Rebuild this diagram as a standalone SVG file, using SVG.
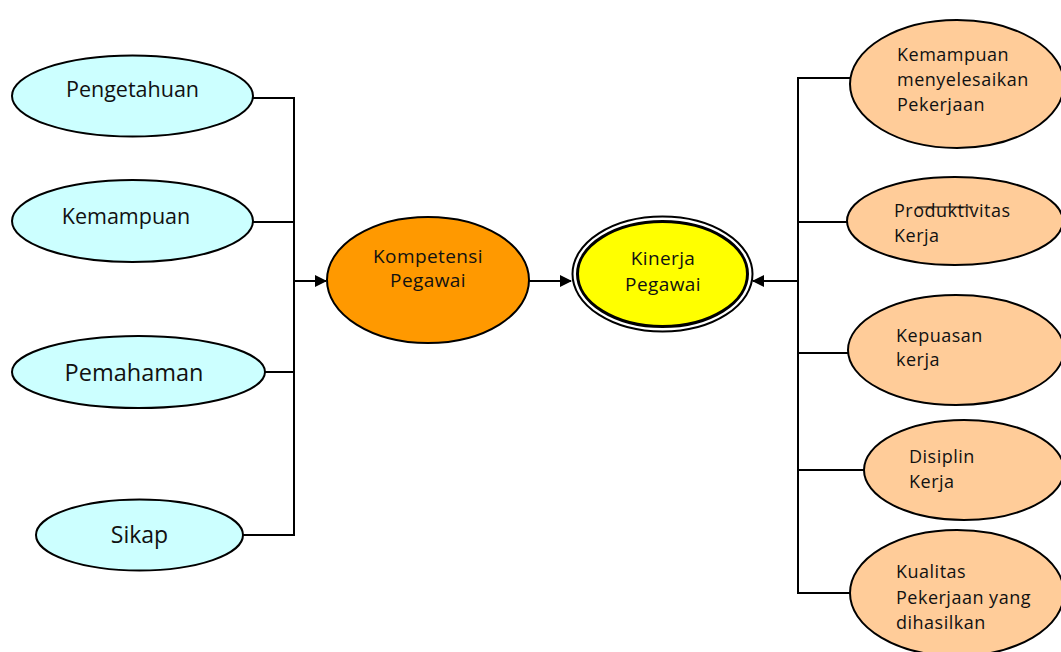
<svg xmlns="http://www.w3.org/2000/svg" width="1061" height="652" viewBox="0 0 1061 652">
<defs>
<style>
.blue{fill:#CCFFFF;stroke:#000;stroke-width:2}
.peach{fill:#FFCC99;stroke:#000;stroke-width:2}
.t{font-family:"Open Sans",Lato,sans-serif;fill:#111}
.l{font-size:21.5px}
.m{font-size:18px;letter-spacing:0.5px}
.k{font-size:19px;letter-spacing:0.4px}
.c{stroke:#000;stroke-width:2;fill:none}
</style>
<marker id="ah" markerWidth="12" markerHeight="12" refX="11" refY="6" orient="auto" markerUnits="userSpaceOnUse">
<path d="M0,0 L12,6 L0,12 Z" fill="#000"/>
</marker>
</defs>
<rect width="1061" height="652" fill="#fff"/>
<g id="connectors">
<polyline class="c" points="253,98 294,98 294,535 243,535"/>
<line class="c" x1="253" y1="222" x2="294" y2="222"/>
<line class="c" x1="265" y1="372" x2="294" y2="372"/>
<line class="c" x1="294" y1="281" x2="326" y2="281" marker-end="url(#ah)" stroke-width="2.5"/>
<line class="c" x1="529" y1="281" x2="571" y2="281" marker-end="url(#ah)" stroke-width="2.5"/>
<line class="c" x1="798" y1="281" x2="753" y2="281" marker-end="url(#ah)" stroke-width="2.5"/>
<polyline class="c" points="850,78 798,78 798,593 850,593"/>
<line class="c" x1="798" y1="222" x2="847" y2="222"/>
<line class="c" x1="798" y1="353" x2="848" y2="353"/>
<line class="c" x1="798" y1="470" x2="864" y2="470"/>
</g>
<g id="pengetahuan"><ellipse class="blue" cx="132.5" cy="96" rx="120.5" ry="40.5"/><text class="t l" x="132.5" y="97" text-anchor="middle">Pengetahuan</text></g>
<g id="kemampuan"><ellipse class="blue" cx="132.5" cy="221" rx="120.5" ry="41"/><text class="t l" x="126" y="224" text-anchor="middle">Kemampuan</text></g>
<g id="pemahaman"><ellipse class="blue" cx="138.5" cy="372" rx="126.5" ry="36"/><text class="t" font-size="23.5" x="134" y="381" text-anchor="middle">Pemahaman</text></g>
<g id="sikap"><ellipse class="blue" cx="139.5" cy="535" rx="103.5" ry="35.5"/><text class="t" font-size="23" x="139.5" y="543" text-anchor="middle">Sikap</text></g>
<g id="kompetensi"><ellipse cx="428" cy="280" rx="101" ry="63" fill="#FF9900" stroke="#000" stroke-width="2"/><text class="t k" x="428" y="263" text-anchor="middle">Kompetensi</text><text class="t k" x="428" y="287" text-anchor="middle">Pegawai</text></g>
<g id="kinerja"><ellipse cx="662.5" cy="274" rx="90" ry="57.5" fill="#fff" stroke="#000" stroke-width="2"/><ellipse cx="662.5" cy="274" rx="85" ry="52.5" fill="#FFFF00" stroke="#000" stroke-width="3"/><text class="t k" x="663" y="265" text-anchor="middle">Kinerja</text><text class="t k" x="663" y="291" text-anchor="middle">Pegawai</text></g>
<g id="kemampuan-menyelesaikan"><ellipse class="peach" cx="957" cy="84" rx="107" ry="64"/><text class="t m" x="897" y="61">Kemampuan</text><text class="t m" x="897" y="86">menyelesaikan</text><text class="t m" x="897" y="111">Pekerjaan</text></g>
<g id="produktivitas"><ellipse class="peach" cx="955" cy="221" rx="108" ry="44"/><text class="t m" x="894" y="217">Produktivitas</text><text class="t m" x="894" y="242">Kerja</text><line x1="917" y1="207" x2="973" y2="207" stroke="#000" stroke-width="1"/></g>
<g id="kepuasan"><ellipse class="peach" cx="956" cy="350" rx="108" ry="55"/><text class="t m" x="896" y="342">Kepuasan</text><text class="t m" x="896" y="366">kerja</text></g>
<g id="disiplin"><ellipse class="peach" cx="964" cy="470" rx="100" ry="50"/><text class="t m" x="909" y="463">Disiplin</text><text class="t m" x="909" y="488">Kerja</text></g>
<g id="kualitas"><ellipse class="peach" cx="957" cy="593" rx="107" ry="63"/><text class="t m" x="896" y="578">Kualitas</text><text class="t m" x="896" y="604">Pekerjaan yang</text><text class="t m" x="896" y="629">dihasilkan</text></g>
</svg>
